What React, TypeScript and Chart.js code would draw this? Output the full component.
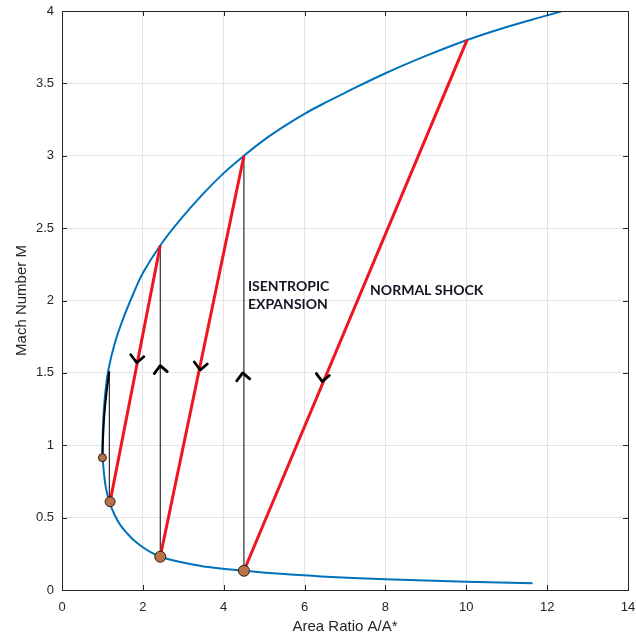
import React, { useEffect, useRef } from "react";
import { Chart, registerables } from "chart.js";

Chart.register(...registerables);

// Area-ratio curve: x = A/A*, y = Mach number
const curveX = [11.64, 10.0, 8.0, 6.4, 5.5, 4.5, 3.5, 2.9, 2.43, 2.2, 2.0, 1.77, 1.6, 1.44, 1.3, 1.17, 1.09, 1.04, 1.01, 1.0, 1.01, 1.03, 1.07, 1.14, 1.3, 1.52, 1.77, 2.0, 2.43, 2.9, 3.5, 4.0, 4.5, 5.0, 5.5, 6.0, 6.5, 7.0, 8.0, 9.0, 10.02, 11.0, 12.0, 12.37];
const curveY = [0.046, 0.057, 0.074, 0.094, 0.11, 0.133, 0.163, 0.195, 0.23, 0.26, 0.295, 0.345, 0.395, 0.45, 0.52, 0.61, 0.7, 0.8, 0.9, 1.0, 1.1, 1.22, 1.36, 1.51, 1.7, 1.88, 2.05, 2.19, 2.38, 2.55, 2.74, 2.88, 3.0, 3.11, 3.205, 3.29, 3.365, 3.435, 3.57, 3.69, 3.8, 3.89, 3.97, 4.0];

// Normal shock lines (red): from subsonic point to supersonic point
const shockStartX = [1.19, 2.43, 4.5];
const shockStartY = [0.61, 0.23, 0.133];
const shockEndX = [2.43, 4.5, 10.02];
const shockEndY = [2.38, 3.0, 3.8];

// Isentropic expansion verticals (thin black)
const isoX = [1.17, 2.43, 4.5];
const isoBottom = [0.61, 0.23, 0.133];
const isoTop = [1.51, 2.38, 3.0];

// Hand-drawn black stroke along the nose of the curve
const noseX = [1.0, 1.02, 1.05, 1.1, 1.17];
const noseY = [0.93, 1.08, 1.22, 1.36, 1.51];

// Brown state points
const dotX = [1.0, 1.19, 2.43, 4.5];
const dotY = [0.914, 0.61, 0.23, 0.133];
const dotR = [4, 5, 5.5, 5.5];

// Direction chevrons: down = on shock lines, up = on expansion lines
const arrowX = [1.85, 2.43, 3.42, 4.47, 6.44];
const arrowY = [1.57, 1.55, 1.52, 1.5, 1.44];
const arrowDir = ["down", "up", "down", "up", "down"];

// Annotation texts
const noteText = ["ISENTROPIC", "EXPANSION", "NORMAL SHOCK"];
const noteX = [4.6, 4.6, 7.62];
const noteY = [2.1, 1.97, 2.07];

const xTicks = [0, 2, 4, 6, 8, 10, 12, 14];
const yTicks = [0, 0.5, 1, 1.5, 2, 2.5, 3, 3.5, 4];

const AXIS_COLOR = "#262626";

const pts = (xs: number[], ys: number[]) => xs.map((x, i) => ({ x, y: ys[i] }));

const zeroPad = (s: any) => {
  s.paddingTop = 0;
  s.paddingBottom = 0;
  s.paddingLeft = 0;
  s.paddingRight = 0;
};

const overlayPlugin = {
  id: "overlay",
  afterDatasetsDraw(chart: any) {
    const { ctx, scales } = chart;
    const xs = scales.x;
    const ys = scales.y;
    ctx.save();
    ctx.strokeStyle = "#000";
    ctx.lineWidth = 2.8;
    ctx.lineCap = "round";
    ctx.lineJoin = "round";
    arrowX.forEach((xv, i) => {
      const px = xs.getPixelForValue(xv);
      const py = ys.getPixelForValue(arrowY[i]);
      const s = arrowDir[i] === "down" ? -1 : 1;
      ctx.beginPath();
      ctx.moveTo(px - 6, py + s * 8);
      ctx.lineTo(px, py);
      ctx.lineTo(px + 7, py + s * 6);
      ctx.stroke();
    });
    ctx.fillStyle = "#141423";
    ctx.font = "bold 14px Lato, 'Open Sans', sans-serif";
    ctx.textAlign = "left";
    ctx.textBaseline = "middle";
    noteText.forEach((t, i) => {
      ctx.fillText(t, xs.getPixelForValue(noteX[i]), ys.getPixelForValue(noteY[i]));
    });
    ctx.restore();
  },
  afterDraw(chart: any) {
    const { ctx, chartArea: a, scales } = chart;
    ctx.save();
    ctx.strokeStyle = AXIS_COLOR;
    ctx.lineWidth = 1;
    ctx.strokeRect(Math.round(a.left) + 0.5, Math.round(a.top) + 0.5, Math.round(a.right - a.left), Math.round(a.bottom - a.top));
    const tl = 5;
    ctx.beginPath();
    xTicks.forEach((v) => {
      const px = Math.round(scales.x.getPixelForValue(v)) + 0.5;
      ctx.moveTo(px, a.bottom);
      ctx.lineTo(px, a.bottom - tl);
      ctx.moveTo(px, a.top);
      ctx.lineTo(px, a.top + tl);
    });
    yTicks.forEach((v) => {
      const py = Math.round(scales.y.getPixelForValue(v)) + 0.5;
      ctx.moveTo(a.left, py);
      ctx.lineTo(a.left + tl, py);
      ctx.moveTo(a.right, py);
      ctx.lineTo(a.right - tl, py);
    });
    ctx.stroke();
    ctx.restore();
  },
};

export default function App() {
  const ref = useRef<HTMLCanvasElement | null>(null);
  useEffect(() => {
    if (!ref.current) return;
    const datasets: any[] = [];
    datasets.push({
      data: pts(curveX, curveY),
      showLine: true,
      borderColor: "#0072BD",
      borderWidth: 2,
      pointRadius: 0,
      tension: 0.35,
      order: 5,
    });
    isoX.forEach((x, i) => {
      datasets.push({
        data: [{ x, y: isoBottom[i] }, { x, y: isoTop[i] }],
        showLine: true,
        borderColor: "#000",
        borderWidth: 1,
        pointRadius: 0,
        order: 4,
      });
    });
    datasets.push({
      data: pts(noseX, noseY),
      showLine: true,
      borderColor: "#000",
      borderWidth: 2,
      pointRadius: 0,
      tension: 0.3,
      order: 3,
    });
    shockStartX.forEach((x, i) => {
      datasets.push({
        data: [{ x, y: shockStartY[i] }, { x: shockEndX[i], y: shockEndY[i] }],
        showLine: true,
        borderColor: "#F0141E",
        borderWidth: 3,
        pointRadius: 0,
        order: 2,
      });
    });
    datasets.push({
      data: pts(dotX, dotY),
      showLine: false,
      pointRadius: dotR,
      pointBackgroundColor: "#B8734A",
      pointBorderColor: "#2a1a10",
      pointBorderWidth: 1,
      order: 1,
    });

    const chart = new Chart(ref.current, {
      type: "scatter",
      data: { datasets },
      options: {
        animation: false,
        responsive: false,
        events: [],
        layout: { padding: { top: 11, right: 8, left: 0, bottom: 0 } },
        plugins: { legend: { display: false }, tooltip: { enabled: false } },
        scales: {
          x: {
            type: "linear",
            min: 0,
            max: 14,
            afterFit: (s: any) => { s.height = 49; zeroPad(s); },
            afterBuildTicks: (s: any) => { s.ticks = xTicks.map((v) => ({ value: v })); },
            grid: { color: "#e4e4e4", drawTicks: false },
            border: { display: false },
            ticks: {
              padding: 10,
              color: AXIS_COLOR,
              font: { family: "'Liberation Sans', Arial, sans-serif", size: 13 },
              maxRotation: 0,
            },
            title: {
              display: true,
              text: "Area Ratio A/A*",
              color: AXIS_COLOR,
              font: { family: "'Liberation Sans', Arial, sans-serif", size: 15 },
              padding: { top: 0, bottom: 3 },
            },
          },
          y: {
            type: "linear",
            min: 0,
            max: 4,
            afterFit: (s: any) => { s.width = 62; zeroPad(s); },
            afterBuildTicks: (s: any) => { s.ticks = yTicks.map((v) => ({ value: v })); },
            grid: { color: "#e4e4e4", drawTicks: false },
            border: { display: false },
            ticks: {
              padding: 8,
              color: AXIS_COLOR,
              font: { family: "'Liberation Sans', Arial, sans-serif", size: 13 },
              callback: (v: any) => String(v),
            },
            title: {
              display: true,
              text: "Mach Number M",
              color: AXIS_COLOR,
              font: { family: "'Liberation Sans', Arial, sans-serif", size: 15 },
              padding: { top: 13, bottom: 0 },
            },
          },
        },
      },
      plugins: [overlayPlugin],
    });
    return () => chart.destroy();
  }, []);

  return (
    <div style={{ position: "fixed", left: 0, top: 0, width: 636, height: 639, background: "#fff" }}>
      <canvas ref={ref} width={636} height={639} style={{ display: "block" }} />
    </div>
  );
}
